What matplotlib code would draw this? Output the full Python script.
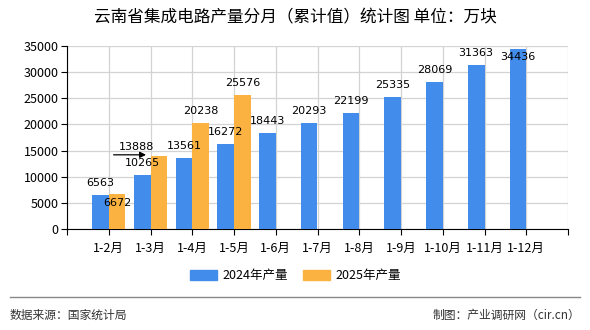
import numpy as np
import matplotlib.pyplot as plt
from matplotlib.lines import Line2D
from matplotlib.patches import Patch

plt.rcParams['font.family'] = ['Noto Sans CJK SC', 'DejaVu Sans']

months = ['1-2月', '1-3月', '1-4月', '1-5月', '1-6月', '1-7月', '1-8月',
          '1-9月', '1-10月', '1-11月', '1-12月']
prod_2024 = [6563, 10265, 13561, 16272, 18443, 20293, 22199, 25335, 28069, 31363, 34436]
prod_2025 = [6672, 13888, 20238, 25576]

blue = '#428CEC'
orange = '#FBB240'

fig = plt.figure(figsize=(5.9, 3.3), dpi=100)
ax = fig.add_axes([67/590, 1-229/330, 501/590, 183/330])

x = np.arange(len(months))
w = 0.4
ax.bar(x - w/2, prod_2024, w, color=blue, zorder=3)
ax.bar(x[:len(prod_2025)] + w/2, prod_2025, w, color=orange, zorder=3)

# label nudges in pixels (a few labels in the original sit oddly)
tweak_24 = {10: (0, -8)}
tweak_25 = {0: (0, -9), 1: (-22, 9)}

for i, v in enumerate(prod_2024):
    dx, dy = tweak_24.get(i, (0, 12))
    ax.annotate(str(v), (x[i] - w/2, v), xytext=(dx, dy), textcoords='offset pixels',
                ha='center', va='center', fontsize=8, family='DejaVu Sans', zorder=5)
for i, v in enumerate(prod_2025):
    dx, dy = tweak_25.get(i, (0, 12))
    ax.annotate(str(v), (x[i] + w/2, v), xytext=(dx, dy), textcoords='offset pixels',
                ha='center', va='center', fontsize=8, family='DejaVu Sans', zorder=5)

# the little arrow next to 13888
ax.annotate('', xy=(x[1] - 0.04, prod_2025[1] + 300), xytext=(-38, 0),
            textcoords='offset pixels',
            arrowprops=dict(arrowstyle='-|>', color='black', lw=0.9, mutation_scale=9),
            zorder=6)

ax.set_xlim(-1, len(months))
ax.set_ylim(0, 35000)
ax.set_yticks(np.arange(0, 35001, 5000))
ax.set_xticks(np.arange(-1, len(months) + 1))
ax.set_xticklabels([''] + months + [''])
ax.tick_params(axis='both', labelsize=9, length=4, width=0.8, colors='black')
ax.tick_params(axis='x', pad=5)
ax.tick_params(axis='y', pad=2)
ax.grid(True, color='#d3d3d3', lw=0.9, zorder=0)
for s in ['top', 'right']:
    ax.spines[s].set_visible(False)
ax.spines['left'].set_color('black')
ax.spines['bottom'].set_color('black')

fig.text(0.5, 1-18/330, '云南省集成电路产量分月（累计值）统计图 单位：万块',
         ha='center', va='center', fontsize=12, fontweight='medium')

handles = [Patch(color=blue, label='2024年产量'), Patch(color=orange, label='2025年产量')]
fig.legend(handles=handles, loc='center', bbox_to_anchor=(0.5, 1-276/330), ncol=2,
           frameon=False, fontsize=9, handlelength=2.2, handleheight=0.8,
           columnspacing=1.2, handletextpad=0.4)

fig.add_artist(Line2D([10/590, 580/590], [1-297/330, 1-297/330], color='#888888', lw=1))
fig.text(10/590, 1-315/330, '数据来源：国家统计局', ha='left', va='center', fontsize=8.5, color='#333333')
fig.text(580/590, 1-315/330, '制图：产业调研网（cir.cn）', ha='right', va='center', fontsize=8.5, color='#333333')

fig.savefig('out.png', dpi=100)
